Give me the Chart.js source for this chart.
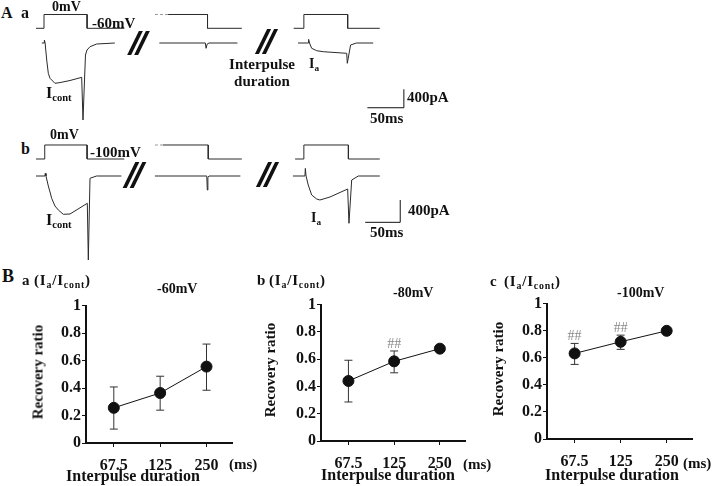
<!DOCTYPE html>
<html>
<head>
<meta charset="utf-8">
<script src="https://cdn.jsdelivr.net/npm/chart.js@4.4.0/dist/chart.umd.min.js"></script>
<style>
html, body { margin: 0; padding: 0; background: #fff; }
#fig { position: relative; width: 720px; height: 486px; overflow: hidden;
  font-family: "Liberation Serif", "Times New Roman", serif; font-weight: bold; color: #111; }
canvas { position: absolute; }
.t { position: absolute; white-space: nowrap; line-height: 1; }
.t sub { font-size: 66%; vertical-align: -0.3em; line-height: 0; }
.lab { font-size: 15px; letter-spacing: 0.8px; }
.rot { transform: translate(-50%, -50%) rotate(-90deg); font-size: 15px; }
.ctr { width: 200px; text-align: center; font-size: 16px; }
.brk { position: absolute; width: 24px; }
.brk i { position: absolute; top: 0; width: 3.5px; height: 100%; background: #111; transform: skewX(-26deg); }
.brk i:first-child { left: 6px; }
.brk i:last-child { left: 13px; }
</style>
</head>
<body>
<div id="fig">
  <canvas id="rowA" width="380" height="130" style="left:30px;top:0px"></canvas>
  <canvas id="rowB" width="380" height="130" style="left:30px;top:135px"></canvas>
  <canvas id="ratio60" width="200" height="180" style="left:40px;top:295px"></canvas>
  <canvas id="ratio80" width="200" height="180" style="left:275px;top:294px"></canvas>
  <canvas id="ratio100" width="200" height="180" style="left:501px;top:293px"></canvas>

  <!-- panel A labels -->
  <div class="t" style="left:1px;top:5px;font-size:16px">A</div>
  <div class="t" style="left:21px;top:5px;font-size:16px">a</div>
  <div class="t" style="left:52px;top:0px;font-size:14px">0mV</div>
  <div class="t" style="left:92px;top:16px;font-size:15px">-60mV</div>
  <div class="t" style="left:212px;top:56px;width:100px;text-align:center;font-size:15px;line-height:17px">Interpulse<br>duration</div>
  <div class="t" style="left:46px;top:85px;font-size:16px">I<sub>cont</sub></div>
  <div class="t" style="left:309px;top:57px;font-size:14px">I<sub>a</sub></div>
  <div class="t" style="left:407px;top:90px;font-size:15px">400pA</div>
  <div class="t" style="left:370px;top:111px;font-size:15px">50ms</div>

  <div class="t" style="left:21px;top:141px;font-size:16px">b</div>
  <div class="t" style="left:50px;top:128px;font-size:14px">0mV</div>
  <div class="t" style="left:90px;top:145px;font-size:15px">-100mV</div>
  <div class="t" style="left:46px;top:212px;font-size:16px">I<sub>cont</sub></div>
  <div class="t" style="left:311px;top:211px;font-size:14px">I<sub>a</sub></div>
  <div class="t" style="left:408px;top:203px;font-size:15px">400pA</div>
  <div class="t" style="left:370px;top:225px;font-size:15px">50ms</div>

  <div class="brk" style="left:127px;top:31px;height:24px"><i></i><i></i></div>
  <div class="brk" style="left:255px;top:29px;height:25px"><i></i><i></i></div>
  <div class="brk" style="left:123px;top:162px;height:26px"><i></i><i></i></div>
  <div class="brk" style="left:256px;top:162px;height:25px"><i></i><i></i></div>

  <!-- panel B labels -->
  <div class="t" style="left:2px;top:267px;font-size:18px">B</div>
  <div class="t" style="left:22px;top:273px;font-size:15px">a</div>
  <div class="t lab" style="left:34px;top:273px">(I<sub>a</sub>/I<sub>cont</sub>)</div>
  <div class="t" style="left:157px;top:282px;font-size:14px">-60mV</div>
  <div class="t rot" style="left:38px;top:372px">Recovery ratio</div>
  <div class="t ctr" style="left:33px;top:468px">Interpulse duration</div>
  <div class="t" style="left:229px;top:457px;font-size:15px">(ms)</div>

  <div class="t" style="left:257px;top:273px;font-size:15px">b</div>
  <div class="t lab" style="left:269px;top:273px">(I<sub>a</sub>/I<sub>cont</sub>)</div>
  <div class="t" style="left:393px;top:286px;font-size:14px">-80mV</div>
  <div class="t rot" style="left:270px;top:370px">Recovery ratio</div>
  <div class="t ctr" style="left:288px;top:467px">Interpulse duration</div>
  <div class="t" style="left:463px;top:457px;font-size:15px">(ms)</div>

  <div class="t" style="left:490px;top:274px;font-size:15px">c</div>
  <div class="t lab" style="left:504px;top:274px">(I<sub>a</sub>/I<sub>cont</sub>)</div>
  <div class="t" style="left:617px;top:286px;font-size:14px">-100mV</div>
  <div class="t rot" style="left:498px;top:369px">Recovery ratio</div>
  <div class="t ctr" style="left:512px;top:467px">Interpulse duration</div>
  <div class="t" style="left:683px;top:456px;font-size:15px">(ms)</div>
</div>

<script>
// ------------------------
// DATA - panel B (recovery ratio Ia/Icont)
// ------------------------
const durations = ['67.5', '125', '250'];
const yTicks = [0, 0.2, 0.4, 0.6, 0.8, 1];

const ratio60 = [0.256, 0.364, 0.556];
const errLo60 = [0.101, 0.239, 0.384];
const errHi60 = [0.408, 0.486, 0.72];
const sig60 = ['', '', ''];

const ratio80 = [0.44, 0.584, 0.677];
const errLo80 = [0.286, 0.50, null];
const errHi80 = [0.592, 0.66, null];
const sig80 = ['', '##', ''];

const ratio100 = [0.632, 0.718, 0.799];
const errLo100 = [0.551, 0.662, null];
const errHi100 = [0.706, 0.767, null];
const sig100 = ['##', '##', ''];

// ------------------------
// DATA - panel A traces, [time ms, value]  (mV for steps, pA for currents)
// ------------------------
// a: holding -60 mV
const vmA1 = [[0,-60],[11,-60],[11,0],[70,0],[70,-60],[121,-60]];
const vmA2pre = [[163,0],[181,0]];
const vmA2 = [[181,0],[235,0],[235,-60],[282,-60]];
const vmA3 = [[353,-60],[367,-60],[367,0],[427,0],[427,-60],[471,-60]];
const imA1 = [[8,0],[11,0],[11.5,65],[12.5,0],[14.7,-370],[16.9,-660],[19.2,-767],[26,-876],[33,-860],[46.6,-815],[62.6,-746],[64.4,-1674],[67.8,-261],[69.9,-152],[74,-80],[83,-22],[108,0]];
const imA2 = [[169,0],[232,0],[233,-115],[234.5,-25],[237,0],[276,0]];
const imA3 = [[359,0],[373,0],[373.5,80],[374.7,0],[377.7,-115],[384.5,-167],[393.6,-189],[425.7,-224],[426.5,-441],[431,-43],[439,0],[462,0]];
const barA = [[454,-1407],[504,-1407],[504,-1006]];   // 50 ms / 400 pA

// b: holding -100 mV
const vmB1 = [[0,-100],[12,-100],[12,0],[70,0],[70,-100],[121,-100]];
const vmB2pre = [[163,0],[174,0]];
const vmB2 = [[174,0],[236,0],[236,-100],[282,-100]];
const vmB3 = [[355,-100],[367,-100],[367,0],[428,0],[428,-100],[471,-100]];
const imB1 = [[0,0],[12.3,0],[12.7,48],[13.7,0],[16.9,-179],[19.2,-287],[21.5,-400],[26,-538],[30.6,-609],[37.4,-686],[46.6,-681],[70.3,-489],[71.7,-1505],[74,-41],[83,0],[117,0]];
const imB2 = [[163,0],[234,0],[234.7,-251],[235.5,-30],[237,0],[280,0]];
const imB3 = [[352,0],[368.5,0],[369,136],[370,0],[373,-161],[377.7,-340],[384.5,-412],[389,-430],[402.8,-376],[427,-233],[428.8,-848],[432.5,-72],[441.6,0],[471,0]];
const barB = [[451,-830],[499,-830],[499,-430]];      // 50 ms / 400 pA

Chart.defaults.font.family = '"Liberation Serif", "Times New Roman", serif';
Chart.defaults.color = '#111';

// ------------------------
// TRACES
// ------------------------
function trace(points, axis, color, dash){
  return {
    data: points.map(p => ({ x: p[0], y: p[1] })),
    yAxisID: axis, showLine: true, borderColor: color, borderWidth: 1,
    borderDash: dash || [], pointRadius: 0, tension: 0, fill: false
  };
}

function traceChart(id, sets, iRange, vRange){
  return new Chart(document.getElementById(id), {
    type: 'scatter',
    data: { datasets: sets },
    options: {
      responsive: false, animation: false, events: [],
      layout: { padding: 0 },
      plugins: { legend: { display: false }, tooltip: { enabled: false } },
      scales: {
        x: { type: 'linear', display: false, min: -8.2, max: 512.4 },
        y: { type: 'linear', display: false, min: iRange[0], max: iRange[1] },
        v: { type: 'linear', axis: 'y', display: false, min: vRange[0], max: vRange[1] }
      }
    }
  });
}

const ink = '#2a2a2a';
traceChart('rowA', [
  trace(vmA1, 'v', ink), trace(vmA2pre, 'v', '#999', [3, 2]), trace(vmA2, 'v', ink), trace(vmA3, 'v', ink),
  trace(imA1, 'y', ink), trace(imA2, 'y', ink), trace(imA3, 'y', ink),
  trace(barA, 'y', '#111')
], [-1891, 935], [-502, 63]);

traceChart('rowB', [
  trace(vmB1, 'v', ink), trace(vmB2pre, 'v', '#999', [3, 2]), trace(vmB2, 'v', ink), trace(vmB3, 'v', ink),
  trace(imB1, 'y', ink), trace(imB2, 'y', ink), trace(imB3, 'y', ink),
  trace(barB, 'y', '#111')
], [-1595, 735], [-857, 71.4]);

// ------------------------
// RECOVERY RATIO CHARTS
// ------------------------
function sigMarks(labels, hi){
  return {
    id: 'sigMarks',
    afterDatasetsDraw(chart){
      const { ctx, scales } = chart;
      ctx.save();
      ctx.font = '14px "Liberation Serif"';
      ctx.fillStyle = '#888';
      ctx.textAlign = 'center';
      ctx.textBaseline = 'alphabetic';
      labels.forEach((t, i) => {
        if(!t) return;
        ctx.fillText(t, scales.x.getPixelForValue(i), scales.y.getPixelForValue(hi[i]) - 3);
      });
      ctx.restore();
    }
  };
}

function ratioChart(id, ratio, lo, hi, sig, pad, xh){
  const errPts = [];
  ratio.forEach((_, i) => {
    if(lo[i] == null) return;
    errPts.push({ x: i, y: lo[i] }, { x: i, y: hi[i] }, { x: i, y: null });
  });
  const tickFont = { family: '"Liberation Serif", serif', size: 16, weight: 'bold' };
  return new Chart(document.getElementById(id), {
    type: 'scatter',
    data: { datasets: [
      { data: ratio.map((v, i) => ({ x: i, y: v })), showLine: true, borderColor: '#111',
        backgroundColor: '#111', borderWidth: 1, pointRadius: 5.5, pointBorderWidth: 1 },
      { data: errPts, showLine: true, spanGaps: false, borderColor: '#333', borderWidth: 1,
        pointStyle: 'line', pointRadius: 4, pointBorderWidth: 1, pointBorderColor: '#333' }
    ]},
    options: {
      responsive: false, animation: false, events: [],
      layout: { padding: pad },
      plugins: { legend: { display: false }, tooltip: { enabled: false } },
      scales: {
        x: {
          type: 'linear', min: -0.6, max: 2.55,
          afterBuildTicks: s => { s.ticks = durations.map((_, i) => ({ value: i })); },
          afterFit: s => { s.height = xh; },
          ticks: { callback: v => durations[v], font: tickFont, color: '#111', padding: 9, maxRotation: 0 },
          grid: { display: true, drawOnChartArea: false, drawTicks: true, tickLength: 4, color: '#111' },
          border: { display: true, color: '#111', width: 2 }
        },
        y: {
          type: 'linear', min: 0, max: 1,
          afterBuildTicks: s => { s.ticks = yTicks.map(v => ({ value: v })); },
          afterFit: s => { s.width = 46; },
          ticks: { callback: v => String(+v.toFixed(2)), font: tickFont, color: '#111', padding: 1 },
          grid: { display: true, drawOnChartArea: false, drawTicks: true, tickLength: 4, color: '#111' },
          border: { display: true, color: '#111', width: 2 }
        }
      }
    },
    plugins: [sigMarks(sig, hi)]
  });
}

ratioChart('ratio60', ratio60, errLo60, errHi60, sig60, { top: 10, right: 8, left: 0, bottom: 0 }, 32);
ratioChart('ratio80', ratio80, errLo80, errHi80, sig80, { top: 10, right: 10, left: 0, bottom: 0 }, 33);
ratioChart('ratio100', ratio100, errLo100, errHi100, sig100, { top: 10, right: 9, left: 0, bottom: 0 }, 34);
</script>
</body>
</html>
